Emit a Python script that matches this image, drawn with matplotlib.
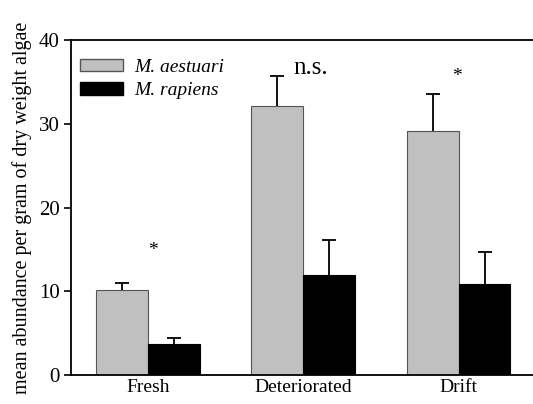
import numpy as np
import matplotlib.pyplot as plt
from matplotlib.patches import Patch

plt.rcParams['font.family'] = ['Liberation Serif', 'DejaVu Serif']

habitats = ['Fresh', 'Deteriorated', 'Drift']
aestuari = [10.2, 32.1, 29.1]
aestuari_se = [0.8, 3.6, 4.5]
rapiens = [3.7, 11.9, 10.9]
rapiens_se = [0.7, 4.2, 3.8]
signif = ['*', 'n.s.', '*']
signif_y = [13.9, 35.3, 34.6]
signif_dx = [0.03, 0.05, -0.01]

fig = plt.figure(figsize=(5.33, 4.04), dpi=100)
ax = fig.add_axes([71/533, 29/404, 462/533, 335/404])

x = np.arange(len(habitats))
w = 0.335
ax.bar(x - w/2, aestuari, w, color='#c0c0c0', edgecolor='#555555', linewidth=0.8)
ax.bar(x + w/2, rapiens, w, color='black', edgecolor='black', linewidth=0.8)

# one-sided error bars, upper cap only
for xs, ys, es in [(x - w/2, aestuari, aestuari_se), (x + w/2, rapiens, rapiens_se)]:
    eb = ax.errorbar(xs, ys, yerr=[np.zeros(3), es], fmt='none', ecolor='black',
                     elinewidth=1.3, capsize=5, capthick=1.3)
    eb[1][0].set_visible(False)

for i, s in enumerate(signif):
    fs = 18 if s == 'n.s.' else 14
    ax.text(x[i] + signif_dx[i], signif_y[i], s, ha='center', va='bottom', fontsize=fs)

ax.set_xlim(-0.497, 2.48)
ax.set_ylim(0, 40)
ax.set_yticks([0, 10, 20, 30, 40])
ax.set_xticks(x)
ax.set_xticklabels(habitats, fontsize=14)
ax.tick_params(axis='x', length=0, pad=3)
ax.tick_params(axis='y', labelsize=15, direction='out', length=5, width=1.2, pad=3)
ax.set_ylabel('mean abundance per gram of dry weight algae', fontsize=14.5, labelpad=5)
ax.spines['right'].set_visible(False)
for sp in ax.spines.values():
    sp.set_linewidth(1.3)

handles = [Patch(facecolor='#c0c0c0', edgecolor='#555555', label='M. aestuari'),
           Patch(facecolor='black', edgecolor='black', label='M. rapiens')]
leg = ax.legend(handles=handles, loc='upper left', frameon=False,
                prop={'style': 'italic', 'size': 14}, handlelength=2.2, handleheight=0.6,
                handletextpad=0.6, borderaxespad=0.3, labelspacing=0.35,
                bbox_to_anchor=(-0.01, 0.985))

fig.savefig('out.png', dpi=100)
